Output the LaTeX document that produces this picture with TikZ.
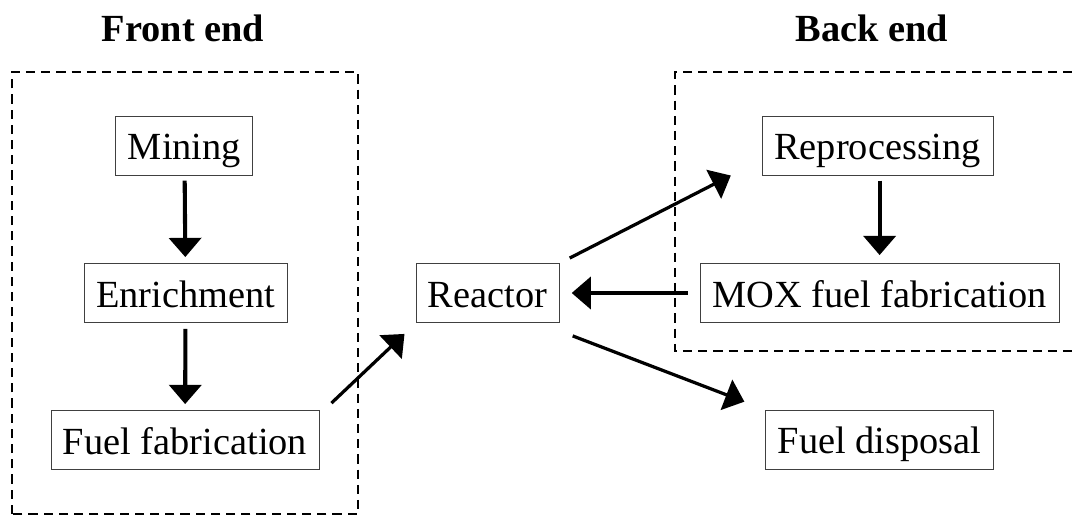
\documentclass[tikz,border=0pt]{standalone}
\usepackage{fontspec}
\setmainfont{Liberation Serif}
\usetikzlibrary{arrows.meta}
\usetikzlibrary{positioning}

\tikzset{
  stage/.style={draw=black!75, line width=0.6pt, minimum height=1.475cm, inner xsep=0.3cm, inner ysep=0.1cm,
    text height=0.8cm, text depth=0.1cm},
  flow/.style={-{Triangle[length=0.48cm, width=0.8cm]}, line width=2.9pt},
  group/.style={dashed, line width=1.8pt, dash pattern=on 0.23cm off 0.15cm},
}

\begin{document}
\begin{tikzpicture}[line join=miter, font=\fontsize{27.3}{32}\selectfont]
  \useasboundingbox (0, 0) rectangle (26.8, 12.9);
  %--- groups
    \draw[group] (0.3, 0.05) rectangle (8.95, 11.1);
    \draw[group] (26.8, 11.1) -- (16.875, 11.1) -- (16.875, 4.125) -- (26.8, 4.125);
    \node[font=\fontsize{27.3}{32}\selectfont\bfseries] (front) at (4.575, 12.2) {Front end};
    \node[font=\fontsize{27.3}{32}\selectfont\bfseries] (back) at (21.8, 12.2) {Back end};
  %--- front end
    \node[stage] (mining) at (4.61, 9.26) {Mining};
    \node[stage] (enrich) at (4.64, 5.575) {Enrichment};
    \node[stage] (fuelfab) at (4.625, 1.9) {Fuel fabrication};
  %--- reactor
    \node[stage] (reactor) at (12.19, 5.575) {Reactor};
  %--- back end
    \node[stage] (reproc) at (21.94, 9.26) {Reprocessing};
    \node[stage] (mox) at (21.99, 5.575) {MOX fuel fabrication};
    \node[stage] (disposal) at (21.99, 1.91) {Fuel disposal};
  %--- flows
    \draw[flow, shorten <=0.13cm, shorten >=0.15cm] (mining) -- (enrich);
    \draw[flow, shorten <=0.15cm, shorten >=0.15cm] (enrich) -- (fuelfab);
    \draw[flow, line width=2.3pt] ([shift={(0.3, 0.175)}]fuelfab.north east) -- ([shift={(-0.275, -0.275)}]reactor.south west);
    \draw[flow, line width=2.3pt] ([shift={(0.25, 0.125)}]reactor.north east) -- ([shift={(-0.775, 0)}]reproc.south west);
    \draw[flow, shorten <=0.3cm, shorten >=0.3cm] (mox) -- (reactor);
    \draw[flow, line width=2.3pt] ([shift={(0.325, -0.325)}]reactor.south east) -- ([shift={(-0.525, 0.2)}]disposal.north west);
    \draw[flow, shorten <=0.13cm, shorten >=0.2cm] (reproc.south -| mox) -- (mox);
\end{tikzpicture}
\end{document}
